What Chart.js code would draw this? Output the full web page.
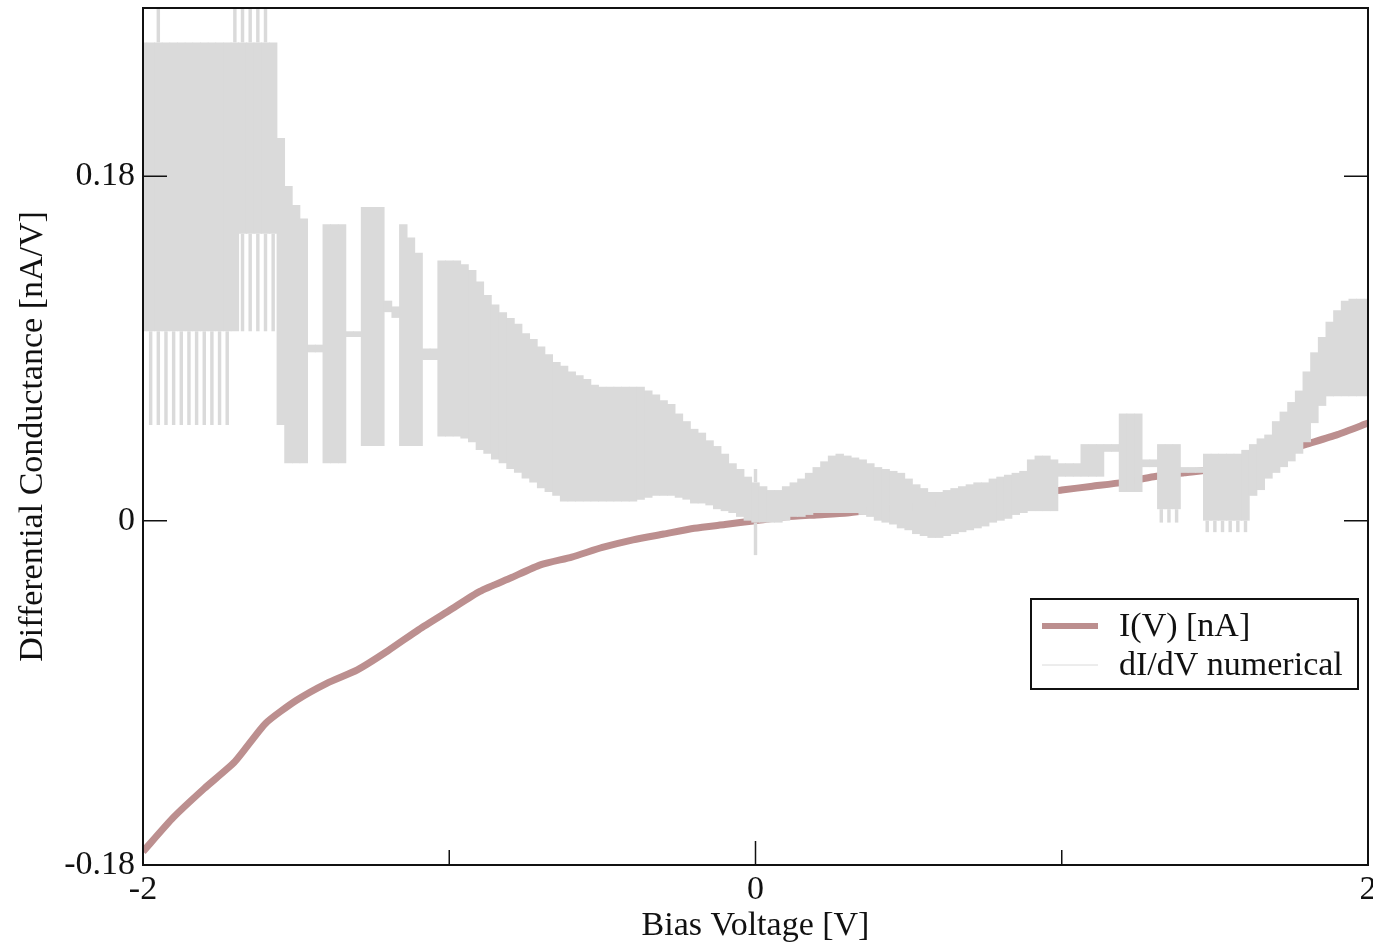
<!DOCTYPE html>
<html>
<head>
<meta charset="utf-8">
<script src="https://cdn.jsdelivr.net/npm/chart.js@4.4.1/dist/chart.umd.min.js"></script>
<style>
  html, body { margin: 0; padding: 0; background: #fff; }
</style>
</head>
<body>
<canvas id="ivChart" width="1373" height="944"></canvas>
<script>
// I(V) curve, read every 0.1 V
const ivVoltage = [
  -2, -1.9, -1.8, -1.7, -1.6, -1.5, -1.4, -1.3, -1.2, -1.1,
  -1, -0.9, -0.8, -0.7, -0.6, -0.5, -0.4, -0.3, -0.2, -0.1,
  0, 0.1, 0.2, 0.3, 0.4, 0.5, 0.6, 0.7, 0.8, 0.9,
  1, 1.1, 1.2, 1.3, 1.4, 1.5, 1.6, 1.7, 1.8, 1.9, 2
];
const ivCurrent = [
  -0.173, -0.155, -0.140, -0.126, -0.106, -0.094, -0.085, -0.078, -0.068, -0.057,
  -0.047, -0.037, -0.030, -0.023, -0.019, -0.014, -0.010, -0.007, -0.004, -0.002,
  0, 0.002, 0.003, 0.004, 0.006, 0.007, 0.009, 0.011, 0.013, 0.014,
  0.016, 0.018, 0.020, 0.023, 0.025, 0.027, 0.030, 0.035, 0.040, 0.045, 0.051
];

// dI/dV numerical: envelope of the noisy trace, read every 0.025 V
const bandVoltage = [
  -2, -1.975, -1.95, -1.925, -1.9, -1.875, -1.85, -1.825, -1.8, -1.775,
  -1.75, -1.725, -1.7, -1.675, -1.65, -1.625, -1.6, -1.575, -1.55, -1.525,
  -1.5, -1.475, -1.45, -1.425, -1.4, -1.375, -1.35, -1.325, -1.3, -1.275,
  -1.25, -1.225, -1.2, -1.175, -1.15, -1.125, -1.1, -1.075, -1.05, -1.025,
  -1, -0.975, -0.95, -0.925, -0.9, -0.875, -0.85, -0.825, -0.8, -0.775,
  -0.75, -0.725, -0.7, -0.675, -0.65, -0.625, -0.6, -0.575, -0.55, -0.525,
  -0.5, -0.475, -0.45, -0.425, -0.4, -0.375, -0.35, -0.325, -0.3, -0.275,
  -0.25, -0.225, -0.2, -0.175, -0.15, -0.125, -0.1, -0.075, -0.05, -0.025,
  0, 0.025, 0.05, 0.075, 0.1, 0.125, 0.15, 0.175, 0.2, 0.225,
  0.25, 0.275, 0.3, 0.325, 0.35, 0.375, 0.4, 0.425, 0.45, 0.475,
  0.5, 0.525, 0.55, 0.575, 0.6, 0.625, 0.65, 0.675, 0.7, 0.725,
  0.75, 0.775, 0.8, 0.825, 0.85, 0.875, 0.9, 0.925, 0.95, 0.975,
  1, 1.025, 1.05, 1.075, 1.1, 1.125, 1.15, 1.175, 1.2, 1.225,
  1.25, 1.275, 1.3, 1.325, 1.35, 1.375, 1.4, 1.425, 1.45, 1.475,
  1.5, 1.525, 1.55, 1.575, 1.6, 1.625, 1.65, 1.675, 1.7, 1.725,
  1.75, 1.775, 1.8, 1.825, 1.85, 1.875, 1.9, 1.925, 1.95, 1.975, 2
];
const bandHigh = [
  0.250, 0.250, 0.250, 0.250, 0.250, 0.250, 0.250, 0.250, 0.250, 0.250,
  0.250, 0.250, 0.250, 0.250, 0.250, 0.250, 0.250, 0.250, 0.200, 0.175,
  0.165, 0.158, 0.092, 0.092, 0.155, 0.155, 0.155, 0.099, 0.099, 0.164,
  0.164, 0.164, 0.115, 0.112, 0.155, 0.148, 0.140, 0.090, 0.090, 0.136,
  0.136, 0.136, 0.134, 0.131, 0.125, 0.118, 0.113, 0.109, 0.106, 0.103,
  0.098, 0.095, 0.091, 0.087, 0.083, 0.081, 0.078, 0.076, 0.074, 0.071,
  0.070, 0.070, 0.070, 0.070, 0.070, 0.070, 0.068, 0.066, 0.063, 0.061,
  0.056, 0.052, 0.048, 0.046, 0.042, 0.039, 0.035, 0.030, 0.027, 0.023,
  0.020, 0.018, 0.016, 0.016, 0.018, 0.020, 0.022, 0.025, 0.028, 0.031,
  0.034, 0.035, 0.034, 0.033, 0.032, 0.030, 0.028, 0.027, 0.026, 0.025,
  0.022, 0.019, 0.017, 0.015, 0.015, 0.016, 0.017, 0.018, 0.019, 0.020,
  0.020, 0.022, 0.023, 0.024, 0.025, 0.026, 0.032, 0.034, 0.034, 0.032,
  0.030, 0.030, 0.030, 0.040, 0.040, 0.040, 0.040, 0.040, 0.056, 0.056,
  0.056, 0.032, 0.032, 0.040, 0.040, 0.040, 0.028, 0.028, 0.028, 0.035,
  0.035, 0.035, 0.035, 0.035, 0.037, 0.040, 0.043, 0.045, 0.052, 0.057,
  0.062, 0.068, 0.078, 0.088, 0.096, 0.104, 0.110, 0.115, 0.116, 0.116, 0.116
];
const bandLow = [
  0.099, 0.099, 0.099, 0.099, 0.099, 0.099, 0.099, 0.099, 0.099, 0.099,
  0.099, 0.099, 0.099, 0.150, 0.150, 0.150, 0.150, 0.150, 0.050, 0.030,
  0.030, 0.030, 0.088, 0.088, 0.030, 0.030, 0.030, 0.096, 0.096, 0.039,
  0.039, 0.039, 0.109, 0.106, 0.039, 0.039, 0.039, 0.084, 0.084, 0.044,
  0.044, 0.044, 0.043, 0.041, 0.037, 0.035, 0.032, 0.030, 0.027, 0.025,
  0.022, 0.020, 0.017, 0.015, 0.013, 0.010, 0.010, 0.010, 0.010, 0.010,
  0.010, 0.010, 0.010, 0.010, 0.010, 0.011, 0.012, 0.013, 0.013, 0.013,
  0.012, 0.011, 0.009, 0.009, 0.008, 0.006, 0.005, 0.004, 0.002, 0.000,
  -0.001, -0.001, -0.001, -0.001, 0.000, 0.002, 0.002, 0.003, 0.004, 0.004,
  0.004, 0.004, 0.004, 0.004, 0.003, 0.002, 0.000, -0.001, -0.002, -0.004,
  -0.005, -0.007, -0.008, -0.009, -0.009, -0.008, -0.007, -0.006, -0.005, -0.004,
  -0.003, -0.001, 0.000, 0.001, 0.003, 0.004, 0.005, 0.005, 0.005, 0.005,
  0.023, 0.023, 0.023, 0.023, 0.023, 0.023, 0.036, 0.036, 0.015, 0.015,
  0.015, 0.028, 0.028, 0.006, 0.006, 0.006, 0.025, 0.025, 0.025, 0.000,
  0.000, 0.000, 0.000, 0.000, 0.000, 0.013, 0.016, 0.022, 0.025, 0.028,
  0.031, 0.035, 0.041, 0.051, 0.060, 0.065, 0.065, 0.065, 0.065, 0.065, 0.065
];

// thin noise spikes sticking out of the envelope
const spikeUpVoltage = [-1.95, -1.7, -1.675, -1.65, -1.625, -1.6, 0];
const spikeUpLow = [0.250, 0.250, 0.250, 0.250, 0.250, 0.250, 0.020];
const spikeUpHigh = [0.268, 0.268, 0.268, 0.268, 0.268, 0.268, 0.027];

const spikeDownVoltage = [
  -1.975, -1.95, -1.925, -1.9, -1.875, -1.85, -1.825, -1.8, -1.775, -1.75, -1.725,
  -1.675, -1.65, -1.625, -1.6, -1.575, 0, 1.325, 1.35, 1.375,
  1.475, 1.5, 1.525, 1.55, 1.575, 1.6
];
const spikeDownLow = [
  0.050, 0.050, 0.050, 0.050, 0.050, 0.050, 0.050, 0.050, 0.050, 0.050, 0.050,
  0.099, 0.099, 0.099, 0.099, 0.099, -0.018, -0.001, -0.001, -0.001,
  -0.006, -0.006, -0.006, -0.006, -0.006, -0.006
];
const spikeDownHigh = [
  0.099, 0.099, 0.099, 0.099, 0.099, 0.099, 0.099, 0.099, 0.099, 0.099, 0.099,
  0.150, 0.150, 0.150, 0.150, 0.150, -0.001, 0.006, 0.006, 0.006,
  0.000, 0.000, 0.000, 0.000, 0.000, 0.000
];

// axis ticks
const xTicks = [-2, -1, 0, 1, 2];
const xTickLabels = ['-2', '', '0', '', '2'];
const yTicks = [-0.18, 0, 0.18];
const yTickLabels = ['-0.18', '0', '0.18'];

const lineColor = '#bc8f8f';
const bandColor = '#dadada';
const fontFamily = "'Liberation Serif', 'DejaVu Serif', serif";

// frame, inward ticks and the boxed legend (xmgrace style)
const frameAndLegend = {
  id: 'frameAndLegend',
  afterDatasetsDraw(chart) {
    const ctx = chart.ctx;
    const a = chart.chartArea;
    const x = chart.scales.x;
    const y = chart.scales.y;
    ctx.save();
    ctx.strokeStyle = '#111';
    ctx.lineWidth = 2;
    ctx.strokeRect(a.left, a.top, a.right - a.left, a.bottom - a.top);

    ctx.lineWidth = 1.5;
    ctx.beginPath();
    xTicks.forEach((v, i) => {
      const px = x.getPixelForValue(v);
      const len = xTickLabels[i] === '' ? 15 : 24;
      ctx.moveTo(px, a.bottom);
      ctx.lineTo(px, a.bottom - len);
    });
    yTicks.forEach(v => {
      const py = y.getPixelForValue(v);
      ctx.moveTo(a.left, py);
      ctx.lineTo(a.left + 24, py);
      ctx.moveTo(a.right, py);
      ctx.lineTo(a.right - 24, py);
    });
    ctx.stroke();

    // legend box
    const boxLeft = a.right - 337;
    const boxTop = a.top + 591;
    ctx.fillStyle = '#fff';
    ctx.fillRect(boxLeft, boxTop, 327, 90);
    ctx.lineWidth = 2;
    ctx.strokeRect(boxLeft, boxTop, 327, 90);

    const items = [
      { ds: chart.data.datasets[0], dy: 27 },
      { ds: chart.data.datasets[1], dy: 66 }
    ];
    ctx.font = '34px ' + fontFamily;
    ctx.textBaseline = 'middle';
    ctx.textAlign = 'left';
    items.forEach(it => {
      const ly = boxTop + it.dy;
      ctx.beginPath();
      ctx.strokeStyle = it.ds.legendColor;
      ctx.lineWidth = it.ds.legendWidth;
      ctx.moveTo(boxLeft + 11, ly);
      ctx.lineTo(boxLeft + 67, ly);
      ctx.stroke();
      ctx.fillStyle = '#111';
      ctx.fillText(it.ds.label, boxLeft + 88, ly + 1);
    });
    ctx.restore();
  }
};

const ctx = document.getElementById('ivChart').getContext('2d');
const ivChart = new Chart(ctx, {
  type: 'bar',
  data: {
    datasets: [
      {
        type: 'line',
        label: 'I(V) [nA]',
        data: ivVoltage.map((v, i) => ({ x: v, y: ivCurrent[i] })),
        borderColor: lineColor,
        borderWidth: 7,
        pointRadius: 0,
        tension: 0.2,
        legendColor: lineColor,
        legendWidth: 6,
        order: 3
      },
      {
        label: 'dI/dV numerical',
        data: bandVoltage.map((v, i) => ({ x: v, y: [bandLow[i], bandHigh[i]] })),
        backgroundColor: bandColor,
        borderWidth: 0,
        barPercentage: 1.1,
        categoryPercentage: 1,
        grouped: false,
        clip: 0,
        legendColor: bandColor,
        legendWidth: 1,
        order: 2
      },
      {
        label: 'spikes up',
        data: spikeUpVoltage.map((v, i) => ({ x: v, y: [spikeUpLow[i], spikeUpHigh[i]] })),
        backgroundColor: bandColor,
        borderWidth: 0,
        barPercentage: 0.45,
        categoryPercentage: 1,
        grouped: false,
        clip: 0,
        order: 1
      },
      {
        label: 'spikes down',
        data: spikeDownVoltage.map((v, i) => ({ x: v, y: [spikeDownLow[i], spikeDownHigh[i]] })),
        backgroundColor: bandColor,
        borderWidth: 0,
        barPercentage: 0.45,
        categoryPercentage: 1,
        grouped: false,
        clip: 0,
        order: 1
      }
    ]
  },
  options: {
    responsive: false,
    animation: false,
    layout: { padding: { top: 8, right: 5, left: 0, bottom: 0 } },
    plugins: {
      legend: { display: false },
      tooltip: { enabled: false }
    },
    scales: {
      x: {
        type: 'linear',
        min: -2,
        max: 2,
        offset: false,
        grid: { display: false, drawTicks: false },
        border: { display: false },
        afterBuildTicks: s => { s.ticks = xTicks.map(v => ({ value: v })); },
        afterFit: s => { s.height = 79; s.paddingLeft = 0; s.paddingRight = 0; },
        ticks: {
          autoSkip: false,
          maxRotation: 0,
          padding: 5,
          color: '#111',
          font: { family: fontFamily, size: 34 },
          callback: (v, i) => xTickLabels[i]
        },
        title: {
          display: true,
          text: 'Bias Voltage [V]',
          color: '#111',
          padding: { top: 0, bottom: 0 },
          font: { family: fontFamily, size: 34, lineHeight: 1.05 }
        }
      },
      y: {
        min: -0.18,
        max: 0.268,
        grid: { display: false, drawTicks: false },
        border: { display: false },
        afterBuildTicks: s => { s.ticks = yTicks.map(v => ({ value: v })); },
        afterFit: s => { s.width = 143; s.paddingTop = 0; s.paddingBottom = 0; },
        ticks: {
          autoSkip: false,
          padding: 8,
          color: '#111',
          font: { family: fontFamily, size: 34 },
          callback: (v, i) => yTickLabels[i]
        },
        title: {
          display: true,
          text: 'Differential Conductance [nA/V]',
          color: '#111',
          padding: { top: 13, bottom: 0 },
          font: { family: fontFamily, size: 34 }
        }
      }
    }
  },
  plugins: [frameAndLegend]
});
</script>
</body>
</html>
